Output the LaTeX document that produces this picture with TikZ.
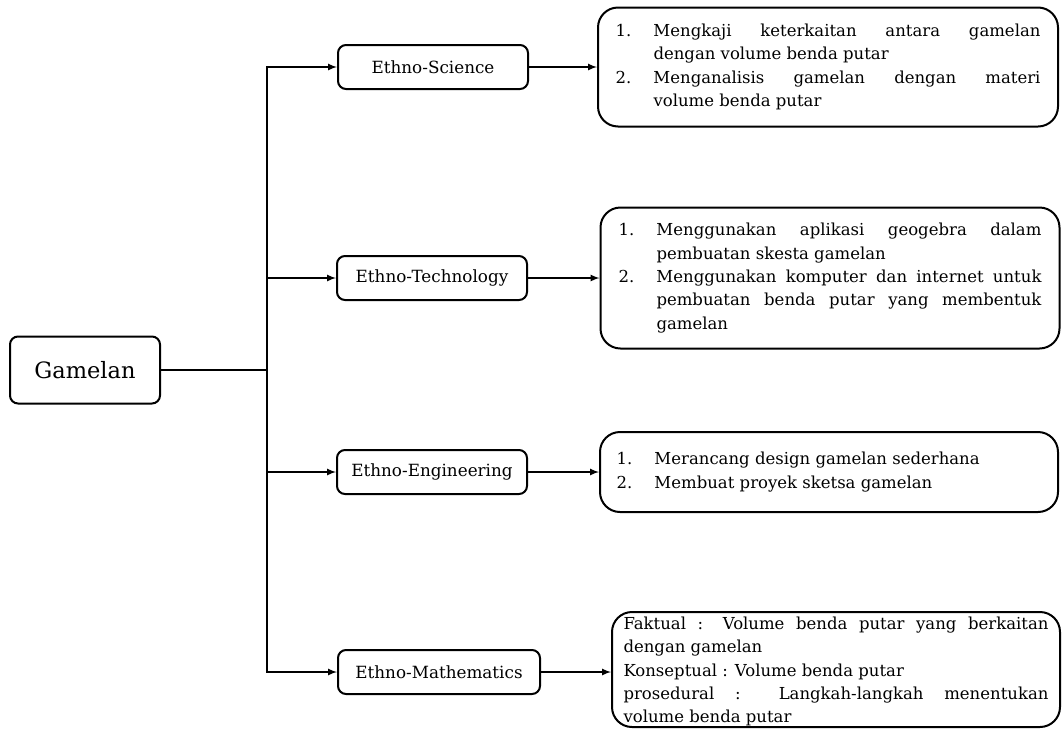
\documentclass[tikz,border=0pt]{standalone}
\usepackage{amsmath}
\usepackage{xcolor}
\usepackage{fontspec}
\setmainfont{DejaVu Serif}
\newcommand{\butir}[1]{\par\hangindent=38pt\hangafter=1\noindent\hbox to 38pt{#1\hfil}}
\begin{document}
\begin{tikzpicture}[x=1pt,y=-1pt,>=latex,
    ethno/.style={draw=black,rounded corners=8pt,line width=2pt,minimum width=190pt,minimum height=44pt,font=\fontsize{16.8}{20}\selectfont},
    ket/.style={draw=black,rounded corners=20pt,line width=2pt,inner sep=0pt,font=\fontsize{16.5}{23.3}\selectfont},
    panah/.style={->,line width=2pt}]
    \useasboundingbox (0,0) rectangle (1062,729);
    \node[ethno,minimum width=150pt,minimum height=67pt,font=\fontsize{22.5}{28}\selectfont](gam)at(85,370){Gamelan};
    \coordinate (trunk) at (267,370);
    \node[ethno](es)at(433,67){Ethno-Science};
    \node[ethno](et)at(432,278){Ethno-Technology};
    \node[ethno](ee)at(432,472){Ethno-Engineering};
    \node[ethno,minimum width=202pt](em)at(439,672){Ethno-Mathematics};
    \node[ket,minimum width=460pt,minimum height=119pt](k1)at(828,67){\parbox{425pt}{%
        \butir{1.}Mengkaji keterkaitan antara gamelan\linebreak dengan volume benda putar
        \butir{2.}Menganalisis gamelan dengan materi\linebreak volume benda putar}};
    \node[ket,minimum width=459pt,minimum height=141pt](k2)at(830,278){\parbox{423pt}{%
        \butir{1.}Menggunakan aplikasi geogebra dalam\linebreak pembuatan skesta gamelan
        \butir{2.}Menggunakan komputer dan internet untuk\linebreak pembuatan benda putar yang membentuk\linebreak gamelan}};
    \node[ket,minimum width=458pt,minimum height=80pt](k3)at(829,472){\parbox{425pt}{%
        \butir{1.}Merancang design gamelan sederhana
        \butir{2.}Membuat proyek sketsa gamelan}};
    \node[ket,minimum width=448pt,minimum height=115pt](k4)at(836,669.5){\parbox[c][115pt][t]{425pt}{\vspace*{5pt}%
        Faktual : Volume benda putar yang berkaitan\linebreak dengan gamelan\par
        Konseptual : Volume benda putar\par
        prosedural : Langkah-langkah menentukan\linebreak volume benda putar}};
    \draw[line width=2pt] (gam.east) -- (trunk);
    \draw[panah] (trunk) |- (es.west);
    \draw[panah] (trunk) |- (et.west);
    \draw[panah] (trunk) |- (ee.west);
    \draw[panah] (trunk) |- (em.west);
    \draw[panah] (es.east) -- (es.east -| k1.west);
    \draw[panah] (et.east) -- (et.east -| k2.west);
    \draw[panah] (ee.east) -- (ee.east -| k3.west);
    \draw[panah] (em.east) -- (em.east -| k4.west);
\end{tikzpicture}
\end{document}
